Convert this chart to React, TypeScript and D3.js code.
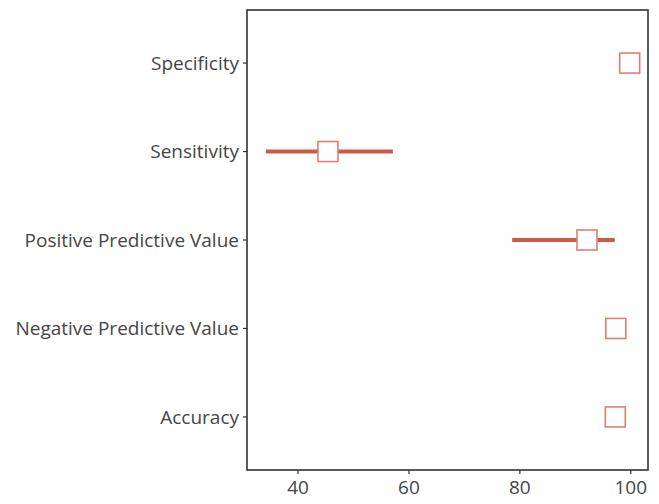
import React from "react";
import * as d3 from "d3";

const categories = ["Specificity", "Sensitivity", "Positive Predictive Value", "Negative Predictive Value", "Accuracy"];
const estimates = [99.8, 45.4, 92.1, 97.3, 97.2];
const lower = [99.6, 34.2, 78.6, 96.5, 96.4];
const upper = [100, 57.1, 97.1, 98.0, 97.9];
const xTicks = [40, 60, 80, 100];

const W = 659, H = 504;
const M = { left: 247, right: 11, top: 10, bottom: 34 };

export default function App() {
  const x = d3.scaleLinear().domain([30.8, 103.1]).range([M.left, W - M.right]);
  const y = d3.scalePoint<string>().domain(categories).range([M.top, H - M.bottom]).padding(0.6);
  const font = "'Open Sans', 'Noto Sans', sans-serif";
  const sq = 20;
  return (
    <svg width={W} height={H} style={{ position: "absolute", left: 0, top: 0, background: "#fff" }}>
      <rect x={M.left} y={M.top} width={W - M.right - M.left} height={H - M.bottom - M.top} fill="none" stroke="#333" strokeWidth={1.6} />
      {categories.map((c, i) => (
        <g key={c}>
          <line x1={M.left - 4} x2={M.left} y1={y(c)} y2={y(c)} stroke="#333" strokeWidth={1.2} />
          <text x={M.left - 8} y={y(c)} dy="0.35em" textAnchor="end" fontFamily={font} fontSize={19} fill="#454545">{c}</text>
          <line x1={x(lower[i])} x2={x(upper[i])} y1={y(c)} y2={y(c)} stroke="#cc5a47" strokeWidth={4} />
          <rect x={x(estimates[i]) - sq / 2} y={y(c)! - sq / 2} width={sq} height={sq} fill="#fff" stroke="#dd8070" strokeWidth={1.6} />
        </g>
      ))}
      {xTicks.map((t) => (
        <g key={t}>
          <line x1={x(t)} x2={x(t)} y1={H - M.bottom} y2={H - M.bottom + 4} stroke="#333" strokeWidth={1.2} />
          <text x={x(t)} y={H - M.bottom + 24} textAnchor="middle" fontFamily={font} fontSize={19} fill="#454545">{t}</text>
        </g>
      ))}
    </svg>
  );
}
